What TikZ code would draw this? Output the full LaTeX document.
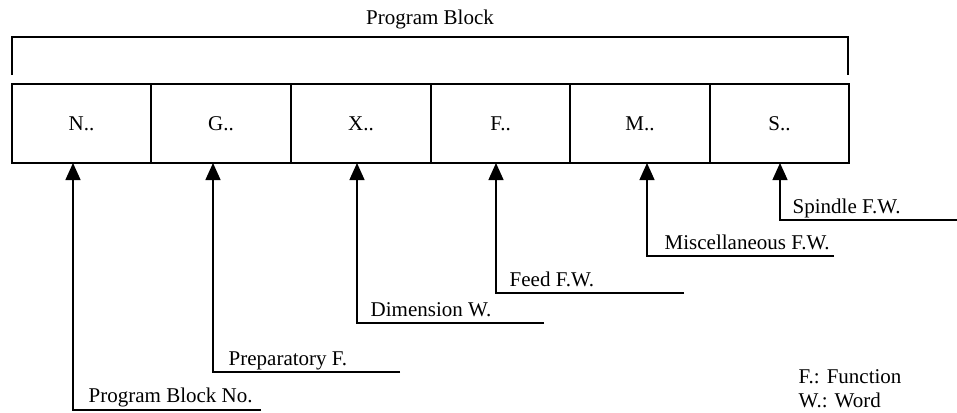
\documentclass[tikz,border=0pt]{standalone}
\usepackage{fontspec}
\setmainfont{Liberation Serif}
\usetikzlibrary{arrows.meta}
\begin{document}
\begin{tikzpicture}[x=1pt,y=-1pt,
  line width=1.4pt,
  wordbox/.style={draw,line width=1.4pt,minimum width=139pt,minimum height=79pt,
    inner sep=0pt,outer sep=0pt,anchor=north west,font=\fontsize{21}{25}\selectfont},
  lbl/.style={anchor=base west,inner sep=0pt,font=\fontsize{21}{25}\selectfont},
  pointer/.style={-{Triangle[length=17pt,width=15pt]},line width=1.4pt}]
\useasboundingbox (0,0) rectangle (957,412);

% the six words of a block
\node[wordbox] (N) at (12,84)                    {N..};
\node[wordbox,minimum width=140pt] (G) at (151,84) {G..};
\node[wordbox,minimum width=140pt] (X) at (291,84) {X..};
\node[wordbox] (F) at (431,84)                   {F..};
\node[wordbox,minimum width=140pt] (M) at (570,84) {M..};
\node[wordbox] (S) at (710,84)                   {S..};

% bracket over the whole block
\coordinate (bl) at (12,75);
\coordinate (br) at (848,75);
\draw (bl) -- (12,37) -- (848,37) -- (br);
\node[lbl,anchor=base] (title) at (430,25) {Program Block};

% labels with their pointers
\coordinate (kN) at (73,410);  \coordinate (eN) at (261,410);
\node[lbl] (tN) at (88,402) {Program Block No.};
\draw[pointer] (eN) -- (kN) -- (kN |- N.south);

\coordinate (kG) at (213,372); \coordinate (eG) at (400,372);
\node[lbl] (tG) at (228,365) {Preparatory F.};
\draw[pointer] (eG) -- (kG) -- (kG |- G.south);

\coordinate (kX) at (357,323); \coordinate (eX) at (544,323);
\node[lbl] (tX) at (370,316) {Dimension W.};
\draw[pointer] (eX) -- (kX) -- (kX |- X.south);

\coordinate (kF) at (496,293); \coordinate (eF) at (684,293);
\node[lbl] (tF) at (509,286) {Feed F.W.};
\draw[pointer] (eF) -- (kF) -- (kF |- F.south);

\coordinate (kM) at (647,256); \coordinate (eM) at (834,256);
\node[lbl] (tM) at (664,249) {Miscellaneous F.W.};
\draw[pointer] (eM) -- (kM) -- (kM |- M.south);

\coordinate (kS) at (780,220); \coordinate (eS) at (957,220);
\node[lbl] (tS) at (792,213) {Spindle F.W.};
\draw[pointer] (eS) -- (kS) -- (kS |- S.south);

% abbreviations
\node[lbl] (k1) at (798,383) {F.: Function};
\node[lbl] (k2) at (798,407) {W.: Word};
\end{tikzpicture}
\end{document}
